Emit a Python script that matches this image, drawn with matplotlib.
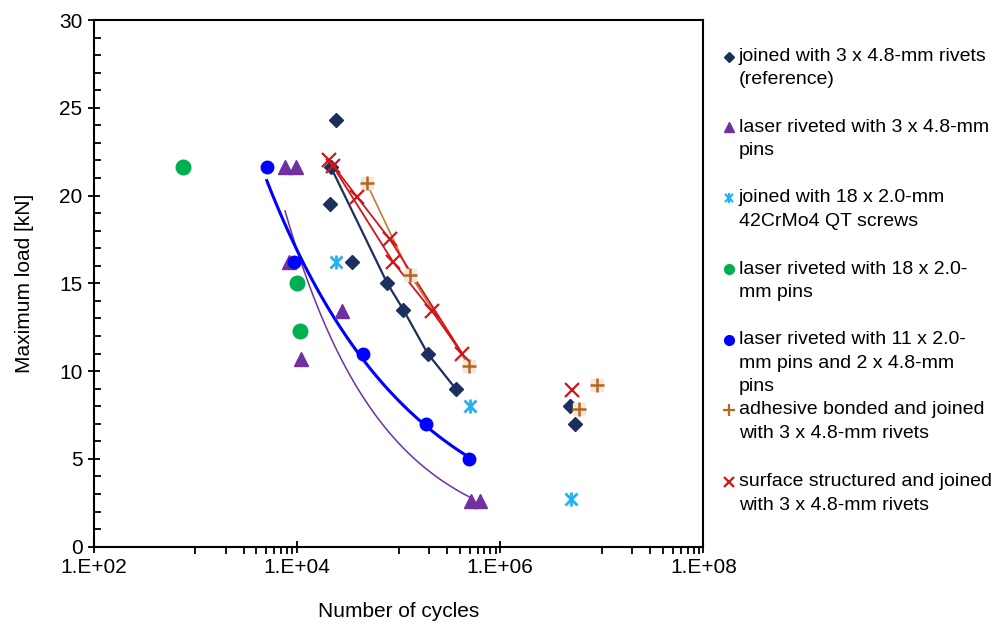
import numpy as np
import matplotlib
matplotlib.use("Agg")
import matplotlib.pyplot as plt
from matplotlib.lines import Line2D
from matplotlib.ticker import FixedLocator, FuncFormatter, MultipleLocator

plt.rcParams["font.family"] = ["Liberation Sans", "DejaVu Sans"]

# ---- data (cycles, kN) ----
navy_x = [24100, 21700, 21200, 35100, 77600, 111500, 193700, 364500, 4.86e6, 5.49e6]
navy_y = [24.3, 21.6, 19.5, 16.2, 15.0, 13.5, 11.0, 9.0, 8.0, 7.0]
navy_line_x = [21700, 77600, 111500, 193700, 364500]
navy_line_y = [21.6, 15.0, 13.5, 11.0, 9.0]

purple_x = [7660, 9810, 8370, 27600, 11000, 516000, 632000]
purple_y = [21.6, 21.6, 16.2, 13.4, 10.7, 2.6, 2.6]
purple_trend_range = [7660, 516000]

cyan_x = [24100, 505000, 4.94e6]
cyan_y = [16.2, 8.0, 2.7]

green_x = [764, 10100, 10700]
green_y = [21.6, 15.0, 12.3]

blue_x = [5060, 9380, 44500, 186000, 493000]
blue_y = [21.6, 16.2, 11.0, 7.0, 5.0]

orange_x = [48600, 129800, 493000, 9.0e6, 5.96e6]
orange_y = [20.7, 15.5, 10.3, 9.2, 7.85]
orange_line_x = [48600, 129800, 493000]
orange_line_y = [20.7, 15.5, 10.3]

red_x = [20800, 22500, 39400, 82400, 88900, 214800, 424000, 5.05e6]
red_y = [22.0, 21.7, 19.9, 17.5, 16.2, 13.4, 11.0, 8.95]
red_line_a_x = [20800, 39400, 82400, 424000]
red_line_a_y = [22.0, 19.9, 17.5, 11.0]
red_line_b_x = [22500, 88900, 214800, 424000]
red_line_b_y = [21.7, 16.2, 13.4, 11.0]

labels = [
    "joined with 3 x 4.8-mm rivets\n(reference)",
    "laser riveted with 3 x 4.8-mm\npins",
    "joined with 18 x 2.0-mm\n42CrMo4 QT screws",
    "laser riveted with 18 x 2.0-\nmm pins",
    "laser riveted with 11 x 2.0-\nmm pins and 2 x 4.8-mm\npins",
    "adhesive bonded and joined\nwith 3 x 4.8-mm rivets",
    "surface structured and joined\nwith 3 x 4.8-mm rivets",
]

NAVY = "#1c2f5f"
PURPLE = "#7030a0"
CYAN = "#1fb4f0"
GREEN = "#00b050"
BLUE = "#0000ff"
ORANGE = "#b8651f"
ORANGE_LINE = "#c07a35"
RED = "#d0161b"


def power_trend(x, y, x_range):
    b, ln_a = np.polyfit(np.log(x), np.log(y), 1)
    xs = np.geomspace(x_range[0], x_range[1], 200)
    return xs, np.exp(ln_a) * xs ** b


fig = plt.figure(figsize=(9.97, 6.25), dpi=100)
ax = fig.add_axes([0.0938, 0.1253, 0.6118, 0.8427])

# trend / connecting lines
ax.plot(navy_line_x, navy_line_y, color=NAVY, lw=1.6, zorder=2)
tx, ty = power_trend(purple_x, purple_y, purple_trend_range)
ax.plot(tx, ty, color=PURPLE, lw=1.1, zorder=2)
tx, ty = power_trend(blue_x, blue_y, [min(blue_x), max(blue_x)])
ax.plot(tx, ty, color=BLUE, lw=2.2, zorder=2)
ax.plot(orange_line_x, orange_line_y, color=ORANGE_LINE, lw=1.2, zorder=2)
ax.plot(red_line_a_x, red_line_a_y, color=RED, lw=1.3, zorder=2)
ax.plot(red_line_b_x, red_line_b_y, color=RED, lw=1.3, zorder=2)

# markers
ax.plot(navy_x, navy_y, ls="none", marker="D", ms=7.5, color=NAVY, zorder=3)
ax.plot(purple_x, purple_y, ls="none", marker="^", ms=10.5, color=PURPLE, zorder=3)
ax.plot(cyan_x, cyan_y, ls="none", marker="x", ms=8, mew=2, color=CYAN, zorder=3)
ax.plot(cyan_x, cyan_y, ls="none", marker="|", ms=10, mew=2, color=CYAN, zorder=3)
ax.plot(green_x, green_y, ls="none", marker="o", ms=10.5, color=GREEN, zorder=3)
ax.plot(blue_x, blue_y, ls="none", marker="o", ms=9, color=BLUE, zorder=4)
ax.plot(orange_x, orange_y, ls="none", marker="s", ms=9, color="#f1e8dc", zorder=4)
ax.plot(orange_x, orange_y, ls="none", marker="+", ms=10, mew=1.8, color=ORANGE, zorder=5)
ax.plot(red_x, red_y, ls="none", marker="x", ms=9.5, mew=1.6, color=RED, zorder=5)

# axes
ax.set_xscale("log")
ax.set_xlim(1e2, 1e8)
ax.set_ylim(0, 30)
ax.xaxis.set_major_locator(FixedLocator([1e2, 1e4, 1e6, 1e8]))
ax.xaxis.set_minor_locator(FixedLocator([m * 10.0 ** k for k in (3, 5, 7) for m in range(1, 10)]))
ax.xaxis.set_major_formatter(FuncFormatter(lambda v, p: "1.E+%02d" % int(round(np.log10(v)))))
ax.xaxis.set_minor_formatter(FuncFormatter(lambda v, p: ""))
ax.yaxis.set_major_locator(MultipleLocator(5))
ax.yaxis.set_minor_locator(MultipleLocator(1))
ax.tick_params(which="major", direction="inout", length=8, width=1.3, labelsize=15, pad=4)
ax.tick_params(axis="x", which="minor", direction="out", length=5, width=1.3)
ax.tick_params(axis="y", which="minor", direction="in", length=5, width=1.3)
for sp in ax.spines.values():
    sp.set_linewidth(1.5)
ax.set_xlabel("Number of cycles", fontsize=15, labelpad=18)
ax.set_ylabel("Maximum load [kN]", fontsize=15, labelpad=18)

# legend drawn at the right side, one entry per series
leg_styles = [
    dict(marker="D", ms=5, color=NAVY),
    dict(marker="^", ms=7, color=PURPLE),
    dict(marker="x", ms=6, mew=1.6, color=CYAN),
    dict(marker="o", ms=7, color=GREEN),
    dict(marker="o", ms=7, color=BLUE),
    dict(marker="+", ms=8, mew=1.6, color=ORANGE),
    dict(marker="x", ms=7, mew=1.6, color=RED),
]
W, H = 997.0, 625.0
entry_top = [56.7, 127.3, 197.7, 269.3, 340, 410, 481.7]
pitch = 23.3
for i, (lab, st) in enumerate(zip(labels, leg_styles)):
    y0 = entry_top[i]
    fig.add_artist(Line2D([729 / W], [1 - y0 / H], ls="none", transform=fig.transFigure, **st))
    if i == 2:
        fig.add_artist(Line2D([729 / W], [1 - y0 / H], ls="none", marker="|", ms=7,
                              mew=1.6, color=CYAN, transform=fig.transFigure))
    for j, line in enumerate(lab.split("\n")):
        fig.text(739 / W, 1 - (y0 + j * pitch) / H, line, fontsize=14,
                 ha="left", va="center")

fig.savefig("out.png", dpi=100)
